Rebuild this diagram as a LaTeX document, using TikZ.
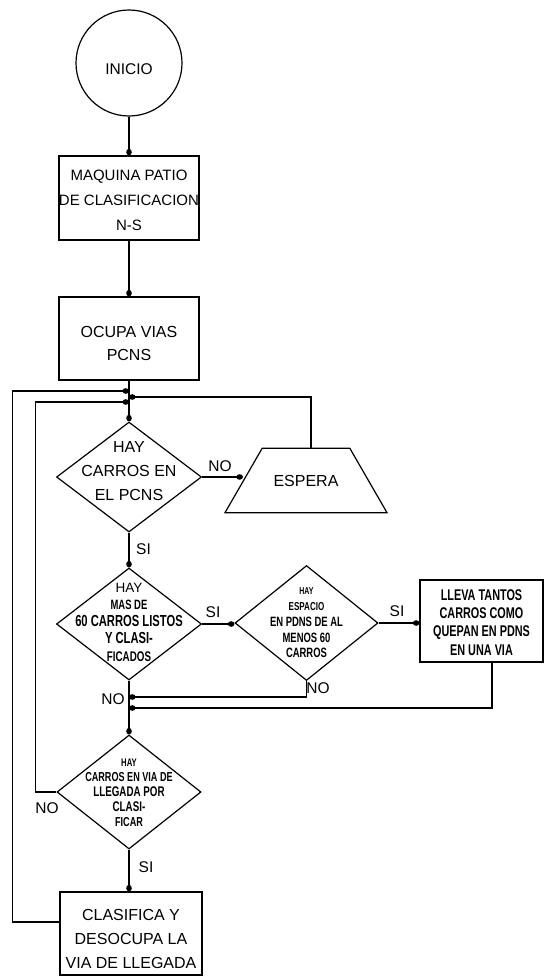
\documentclass[tikz,border=0pt]{standalone}
\usepackage{fontspec}
\setmainfont{Liberation Sans}
\newfontfamily\cnd{Liberation Sans Bold}[FakeStretch=0.7]
\usetikzlibrary{arrows.meta,shapes.geometric}
\newcommand{\fsz}[2]{\fontsize{#1}{#2}\selectfont}
\begin{document}
\begin{tikzpicture}[x=1pt,y=-1pt,
  lw/.style={line width=1.2pt},
  arr/.style={lw,-{Circle[length=6.5pt,width=5.5pt]}},
  shp/.style={draw,lw,inner sep=0pt},
  boxn/.style={shp,rectangle},
  dia/.style={shp,diamond},
  txt/.style={align=center,inner sep=0pt},
  lbl/.style={font=\fsz{15.5}{18},inner sep=0pt}
]
\fill[white] (0,0) rectangle (548,977);
\useasboundingbox (0,0) rectangle (548,977);

\node[shp,circle,minimum size=106pt,
  label={[txt,font=\fsz{15.5}{18},yshift=-6pt]center:INICIO}] (ini) at (129,63) {};

\node[boxn,minimum width=140pt,minimum height=84pt,
  label={[txt,font=\fsz{15}{25},yshift=-2pt]center:{MAQUINA PATIO\\DE CLASIFICACION\\N-S}}] (b1) at (129,198) {};

\node[boxn,minimum width=140pt,minimum height=83pt,
  label={[txt,font=\fsz{16}{23},yshift=-5pt]center:{OCUPA VIAS\\PCNS}}] (b2) at (129,338.5) {};

\node[dia,minimum width=145pt,minimum height=110pt,
  label={[txt,font=\fsz{16}{24},yshift=6pt]center:{HAY\\CARROS EN\\EL PCNS}}] (d1) at (129,477) {};

\node[draw,lw,trapezium,trapezium angle=60,trapezium stretches body=true,
  inner xsep=2pt,inner ysep=26.5pt,
  minimum width=162pt,font=\fsz{16}{20}] (esp) at (306,480.5) {ESPERA};

\node[dia,minimum width=145pt,minimum height=112pt,
  label={[txt,font=\cnd\fsz{16}{17.25},yshift=2pt]center:{{\normalfont\fsz{13.5}{17.25}HAY}\\{\fsz{13.5}{17.25}MAS DE}\\60 CARROS LISTOS\\Y CLASI-\\{\fsz{14}{17.25}FICADOS}}}] (d2) at (129,624) {};

\node[dia,minimum width=143pt,minimum height=115pt,
  label={[txt,font=\cnd\fsz{13.5}{15.75}]center:{{\fsz{10}{15}HAY}\\{\fsz{11.5}{15}ESPACIO}\\EN PDNS DE AL\\MENOS 60\\CARROS}}] (d3) at (306.5,623) {};

\node[boxn,minimum width=123pt,minimum height=82pt,
  label={[txt,font=\cnd\fsz{15.5}{18.3},yshift=-1.5pt]center:{LLEVA TANTOS\\CARROS COMO\\QUEPAN EN PDNS\\EN UNA VIA}}] (b3) at (481.5,621) {};

\node[dia,minimum width=144pt,minimum height=114pt,
  label={[txt,font=\cnd\fsz{14}{15},yshift=-1pt]center:{{\fsz{11}{15}HAY}\\{\fsz{13}{15}CARROS EN VIA DE}\\LLEGADA POR\\CLASI-\\{\fsz{13}{15}FICAR}}}] (d4) at (129,792) {};

\node[boxn,minimum width=142pt,minimum height=83pt,
  label={[txt,font=\fsz{16}{24},yshift=-5.5pt]center:{CLASIFICA Y\\DESOCUPA LA\\VIA DE LLEGADA}}] (b4) at (131,933.5) {};

% junction points on the main line
\coordinate (jo) at (129,391);
\coordinate (je) at (129,397);
\coordinate (ji) at (129,402);
\coordinate (jn) at (129,697);
\coordinate (jl) at (129,708);

% connectors
\draw[arr] (ini.south) -- (b1.north);
\draw[arr] (b1.south) -- (b2.north);
\draw[arr] (b2.south) -- (d1.north);
\draw[arr] (d1.south) -- (d2.north);
\draw[arr] (d2.south) -- (d4.north);
\draw[arr] (d4.south) -- (d4.south |- b4.north);
\draw[arr] (d1.east) -- (d1.east -| esp.west);
\draw[arr] ([xshift=5pt]esp.north) |- (je);
\draw[arr] (d2.east) -- (d2.east -| d3.west);
\draw[arr] (d3.east) -- (d3.east -| b3.west);
\draw[arr] (d3.south) |- (jn);
\draw[arr] ([xshift=10.5pt]b3.south) |- (jl);
\draw[arr] (d4.west) -- ++(-21,0) |- (ji);
\draw[arr] ([yshift=11.5pt]b4.west) -- ++(-47,0) |- (jo);

% connector labels
\node[lbl] (lno1) at (220,466) {NO};
\node[lbl] (lsi1) at (143.5,549.5) {SI};
\node[lbl] (lsi2) at (213,612) {SI};
\node[lbl] (lsi3) at (397,611) {SI};
\node[lbl] (lno2) at (318,688) {NO};
\node[lbl] (lno3) at (113,699) {NO};
\node[lbl] (lno4) at (47,808) {NO};
\node[lbl] (lsi4) at (146,867) {SI};
\end{tikzpicture}
\end{document}
